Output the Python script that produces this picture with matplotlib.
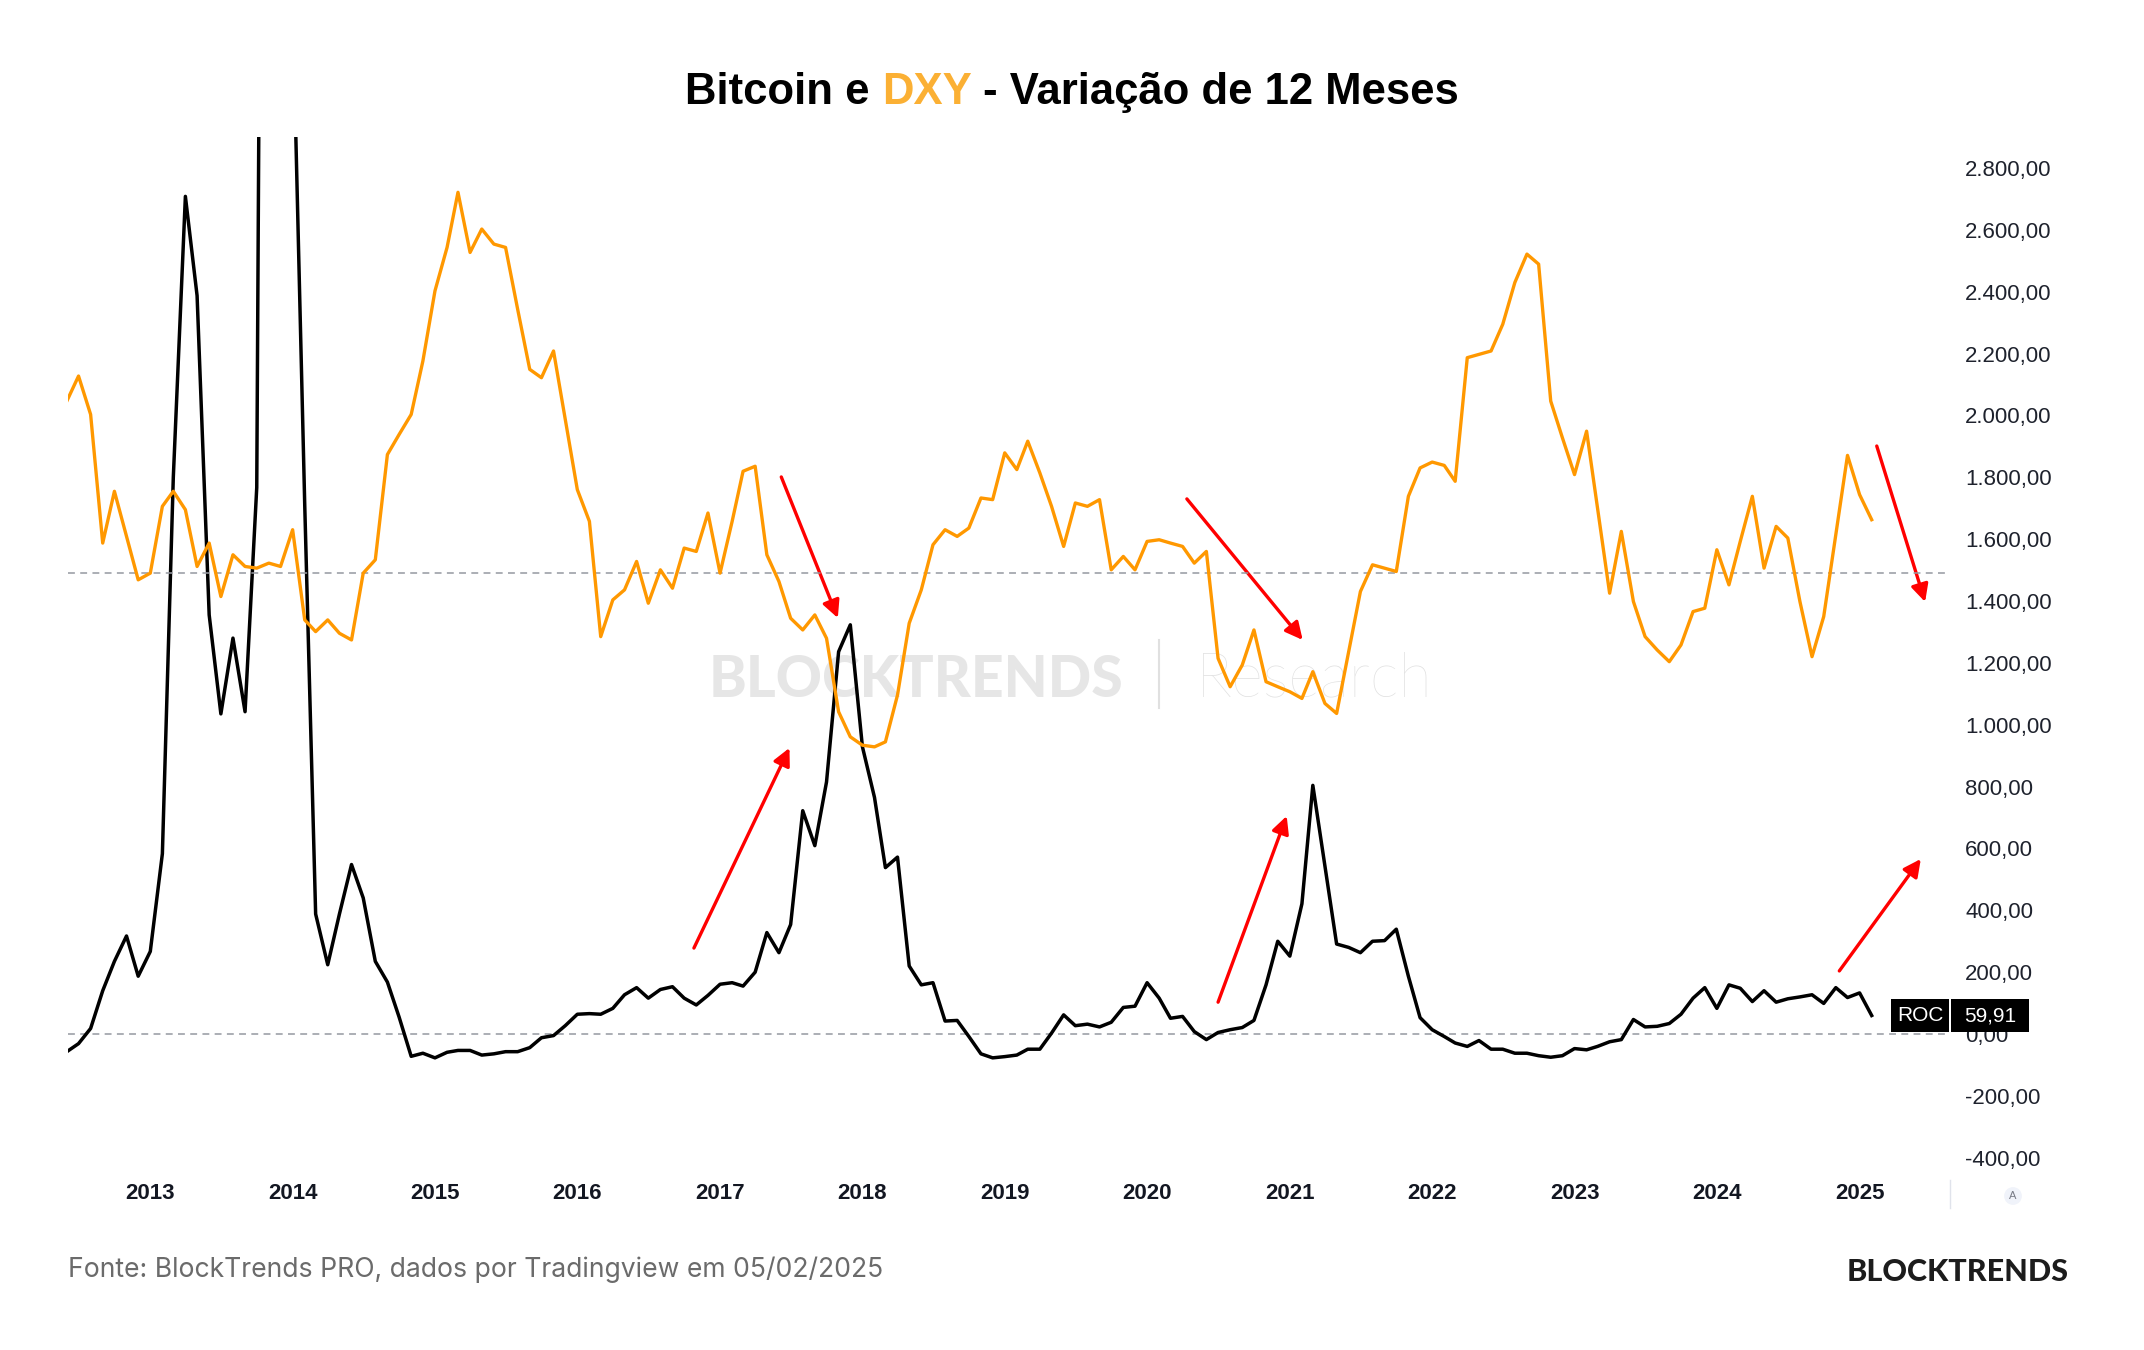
import pandas as pd
import matplotlib
matplotlib.use("Agg")
import matplotlib.pyplot as plt
from matplotlib.patches import Rectangle
from matplotlib.lines import Line2D
from matplotlib.transforms import blended_transform_factory

# monthly closes, Jun 2012 .. Feb 2025
months = pd.date_range("2012-06-01", "2025-02-01", freq="MS")

# Bitcoin 12-month ROC (%)
btc_roc = [
    -57, -31, 18, 140, 235, 317, 187,
    267, 583, 1799, 2708, 2387, 1355, 1035, 1280, 1042, 1767, 8600, 5500,
    3330, 1712, 388, 224, 388, 548, 440, 235, 168, 55, -72, -62,
    -77, -59, -53, -53, -68, -64, -57, -57, -44, -12, -5, 27,
    64, 66, 64, 83, 127, 150, 116, 144, 153, 116, 94, 125,
    161, 166, 155, 200, 328, 263, 354, 722, 609, 815, 1236, 1323,
    929, 765, 538, 572, 220, 159, 166, 42, 44, -8, -64, -77,
    -73, -68, -49, -49, 3, 62, 27, 32, 23, 38, 86, 90,
    166, 116, 51, 57, 8, -18, 5, 14, 21, 44, 159, 300,
    252, 421, 804, 544, 291, 280, 263, 300, 302, 339, 187, 53,
    14, -8, -29, -40, -21, -49, -49, -62, -62, -70, -75, -70,
    -47, -51, -40, -25, -18, 47, 23, 25, 34, 64, 116, 150,
    83, 159, 148, 105, 140, 103, 114, 120, 127, 99, 150, 118,
    133, 59.91,
]

# DXY 12-month change (%)
dxy_roc = [
    10.3, 11.8, 9.5, 1.8, 4.9, 2.2, -0.4,
    0.0, 4.0, 4.9, 3.8, 0.4, 1.8, -1.4, 1.1, 0.4, 0.3, 0.6, 0.4,
    2.6, -2.8, -3.5, -2.8, -3.6, -4.0, 0.0, 0.8, 7.1, 8.3, 9.5, 12.7,
    16.9, 19.5, 22.8, 19.2, 20.6, 19.7, 19.5, 15.8, 12.2, 11.7, 13.3, 9.2,
    5.0, 3.1, -3.8, -1.6, -1.0, 0.7, -1.8, 0.2, -0.9, 1.5, 1.3, 3.6,
    0.0, 3.1, 6.1, 6.4, 1.1, -0.5, -2.7, -3.4, -2.5, -3.9, -8.3, -9.8,
    -10.3, -10.4, -10.1, -7.3, -3.0, -1.0, 1.7, 2.6, 2.2, 2.7, 4.5, 4.4,
    7.2, 6.2, 7.9, 6.0, 4.0, 1.6, 4.2, 4.0, 4.4, 0.2, 1.0, 0.2,
    1.9, 2.0, 1.8, 1.6, 0.6, 1.3, -5.1, -6.8, -5.5, -3.4, -6.5, -6.8,
    -7.1, -7.5, -5.9, -7.8, -8.4, -4.7, -1.1, 0.5, 0.3, 0.1, 4.6, 6.3,
    6.65, 6.45, 5.5, 12.9, 13.1, 13.3, 14.9, 17.4, 19.1, 18.5, 10.3, 8.1,
    5.9, 8.5, 3.9, -1.2, 2.5, -1.7, -3.8, -4.6, -5.3, -4.3, -2.3, -2.1,
    1.4, -0.7, 1.9, 4.6, 0.3, 2.8, 2.1, -1.7, -5.0, -2.6, 2.3, 7.05,
    4.7, 3.2,
]

years = list(range(2013, 2026))
roc_ticks = list(range(-400, 2801, 200))

# red annotation arrows: (start date, start ROC level) -> (end date, end ROC level)
arrows = [
    (("2017-06-07", 1801), ("2017-10-30", 1345)),
    (("2016-10-26", 278), ("2017-06-28", 925)),
    (("2020-04-12", 1730), ("2021-02-03", 1274)),
    (("2020-07-01", 103), ("2020-12-24", 705)),
    (("2025-02-14", 1901), ("2025-06-18", 1397)),
    (("2024-11-10", 204), ("2025-06-07", 566)),
]

W, H = 2144, 1350
ROC_LO, ROC_HI = -446, 2900
DXY_ZERO, DXY_PER_PCT = 1490, 54   # where the hidden DXY scale sits on the ROC scale

plt.rcParams["font.family"] = ["Liberation Sans", "DejaVu Sans"]


def br(v, _=None):
    s = f"{v:,.2f}"
    return s.replace(",", "_").replace(".", ",").replace("_", ".")


fig = plt.figure(figsize=(W / 100, H / 100), dpi=100)
ax = fig.add_axes([68 / W, 1 - 1172 / H, (1945 - 68) / W, (1172 - 137) / H])
ax2 = ax.twinx()
ax.yaxis.tick_right()

ax.plot(months, btc_roc, color="black", lw=2.5, zorder=3)
ax2.plot(months, dxy_roc, color="#ff9800", lw=2.4, zorder=3)

dash = dict(color="#9598a1", lw=1.1, dashes=(4.5, 3.5), zorder=1)
ax.axhline(0, **dash)
ax2.axhline(0, **dash)

ax.set_xlim(pd.Timestamp("2012-06-04"), pd.Timestamp("2025-08-08"))
ax.set_ylim(ROC_LO, ROC_HI)
ax2.set_ylim((ROC_LO - DXY_ZERO) / DXY_PER_PCT, (ROC_HI - DXY_ZERO) / DXY_PER_PCT)

ax.set_yticks(roc_ticks)
ax.yaxis.set_major_formatter(plt.FuncFormatter(br))
ax.tick_params(axis="y", length=0, pad=14.4, labelsize=16, labelcolor="#1e222d")
ax.set_xticks([pd.Timestamp(f"{y}-01-01") for y in years])
ax.set_xticklabels([str(y) for y in years], fontweight="bold")
ax.tick_params(axis="x", length=0, pad=8, labelsize=16, labelcolor="#131722")
ax2.set_yticks([])
ax2.tick_params(right=False, labelright=False)
for a in (ax, ax2):
    for s in a.spines.values():
        s.set_visible(False)

for (d0, v0), (d1, v1) in arrows:
    ax.annotate("", xy=(pd.Timestamp(d1), v1), xytext=(pd.Timestamp(d0), v0),
                arrowprops=dict(arrowstyle="-|>", color="#ff0000", lw=2.4,
                                mutation_scale=26, shrinkA=0, shrinkB=0),
                zorder=5)

# watermark
ax.text(916 / W, 1 - 697 / H, "BLOCKTRENDS", transform=fig.transFigure,
        ha="center", va="baseline", fontsize=41, fontweight="black",
        family="Lato", color="#e6e6e6", zorder=0.5)
ax.add_line(Line2D([1159 / W] * 2, [1 - 640 / H, 1 - 708 / H],
                   transform=fig.transFigure, color="#e0e0e0", lw=1.5, zorder=0.5))
ax.text(1196 / W, 1 - 697 / H, "Research", transform=fig.transFigure,
        ha="left", va="baseline", fontsize=44, fontweight="light",
        family="Lato", color="#e0e0e0", zorder=0.5)

# last value tag
tr = blended_transform_factory(fig.transFigure, ax.transData)
last = btc_roc[-1]
half = 16.5 / ((1172 - 137) / (ROC_HI - ROC_LO))
fig.add_artist(Rectangle((1891 / W, last - half), 58 / W, 2 * half,
                         transform=tr, fc="black", ec="none", zorder=10))
fig.add_artist(Rectangle((1951 / W, last - half), 78 / W, 2 * half,
                         transform=tr, fc="black", ec="none", zorder=10))
fig.text(1920 / W, last, "ROC", transform=tr, ha="center", va="center",
         fontsize=15, color="white", zorder=11)
fig.text(1990 / W, last, br(last), transform=tr, ha="center", va="center",
         fontsize=15, color="white", zorder=11)

# auto-scale button and axis separator
fig.text(2013 / W, 1 - 1196 / H, "A", ha="center", va="center", fontsize=8,
         color="#787b86", bbox=dict(boxstyle="circle,pad=0.35", fc="#f0f3fa", ec="none"))
fig.add_artist(Line2D([1950 / W] * 2, [1 - 1180 / H, 1 - 1208 / H], color="#e0e3eb", lw=1))

# title with coloured DXY
renderer = fig.canvas.get_renderer()
title_parts = [("Bitcoin e", "#000000"), ("DXY", "#fbb034"), ("- Variação de 12 Meses", "#000000")]
tstyle = dict(fontsize=31.4, fontweight="bold")


def text_w(s):
    t = fig.text(0, 0, s, **tstyle)
    w = t.get_window_extent(renderer).width
    t.remove()
    return w


full = " ".join(p for p, _ in title_parts)
x0 = W / 2 - text_w(full) / 2
prefix = ""
for s, c in title_parts:
    prefix = (prefix + " " + s) if prefix else s
    off = text_w(prefix) - text_w(s)
    fig.text((x0 + off) / W, 1 - 104 / H, s, color=c, ha="left", va="baseline", **tstyle)

fig.text(68 / W, 1 - 1270 / H, "Fonte: BlockTrends PRO, dados por Tradingview em 05/02/2025",
         ha="left", va="center", fontsize=19.1, family="Inter", color="#6b6b6b")
fig.text(2069 / W, 1 - 1272 / H, "BLOCKTRENDS", ha="right", va="center",
         fontsize=22, fontweight="black", family="Lato", color="#1c1c1c")

fig.savefig("out.png", dpi=100, facecolor="white")
